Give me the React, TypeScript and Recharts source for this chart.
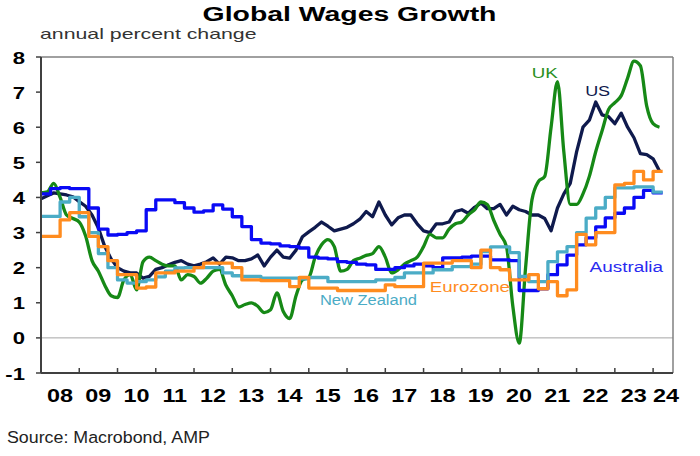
import React from 'react';
import { LineChart, Line, XAxis, YAxis, ReferenceLine, ReferenceDot } from 'recharts';

// x axis: year boundaries and their short labels
const yearTicks = [2008, 2009, 2010, 2011, 2012, 2013, 2014, 2015, 2016, 2017, 2018, 2019, 2020, 2021, 2022, 2023, 2024];
const yearLabels = ['08', '09', '10', '11', '12', '13', '14', '15', '16', '17', '18', '19', '20', '21', '22', '23', '24'];
const valueTicks = [-1, 0, 1, 2, 3, 4, 5, 6, 7, 8];

// quarterly, first value = 2008 Q1
const australia = [
    4.1, 4.25, 4.28, 4.25, 4.25, 3.7, 3.1, 2.93, 2.95, 3.0,
    3.05, 3.65, 3.93, 3.93, 3.85, 3.7, 3.58, 3.62, 3.79, 3.67,
    3.45, 3.17, 2.8, 2.7, 2.68, 2.62, 2.6, 2.56, 2.3, 2.27,
    2.25, 2.17, 2.15, 2.1, 2.08, 1.95, 1.95, 2.0, 2.05, 2.1,
    2.05, 2.0, 2.28, 2.28, 2.3, 2.33, 2.33, 2.22, 2.22, 2.2,
    1.35, 1.35, 1.4, 1.8, 2.08, 2.36, 2.65, 2.85, 3.16, 3.42,
    3.55, 3.7, 4.0, 4.2, 4.13, 4.13,
];
const newZealand = [
    3.46, 3.46, 3.87, 4.0, 3.45, 3.0, 2.4, 2.0, 1.65, 1.56,
    1.6, 1.65, 1.74, 1.9, 1.99, 2.0, 2.0, 2.0, 2.0, 1.85,
    1.77, 1.75, 1.75, 1.7, 1.7, 1.7, 1.7, 1.68, 1.72, 1.72,
    1.6, 1.6, 1.6, 1.6, 1.6, 1.65, 1.65, 1.72, 1.85, 1.85,
    1.85, 1.94, 1.94, 2.03, 2.03, 2.1, 2.46, 2.59, 2.59, 2.43,
    1.75, 1.6, 1.6, 2.17, 2.45, 2.6, 3.0, 3.41, 3.7, 4.0,
    4.27, 4.27, 4.3, 4.3, 4.15, 4.15,
];
const eurozone = [
    2.89, 2.89, 3.36, 3.57, 3.57, 2.89, 2.6, 2.2, 1.8, 1.8,
    1.42, 1.45, 1.85, 1.85, 1.9, 1.9, 2.0, 2.13, 2.13, 2.13,
    2.0, 1.65, 1.65, 1.63, 1.63, 1.63, 1.46, 1.72, 1.42, 1.42,
    1.42, 1.35, 1.35, 1.35, 1.35, 1.35, 1.51, 1.46, 1.46, 1.46,
    2.13, 2.13, 2.13, 2.2, 2.2, 2.0, 2.5, 2.0, 1.94, 1.65,
    1.65, 1.8, 1.4, 1.6, 1.2, 1.37, 2.95, 2.65, 3.0, 3.0,
    4.36, 4.4, 4.74, 4.5, 4.74, 4.74,
];

// every two months, first value = Jan 2008
const us = [
    3.96, 4.05, 4.13, 4.1, 4.07, 4.02, 3.88, 3.75, 3.5, 3.13,
    2.6, 2.25, 2.0, 1.9, 1.85, 1.85, 1.7, 1.75, 1.95, 2.0,
    2.08, 2.15, 2.2, 2.1, 2.05, 2.1, 2.17, 2.28, 2.1, 2.3,
    2.28, 2.2, 2.2, 2.25, 2.36, 2.05, 2.3, 2.5, 2.3, 2.27,
    2.5, 2.88, 3.02, 3.15, 3.3, 3.18, 3.05, 3.1, 3.15, 3.25,
    3.38, 3.6, 3.45, 3.87, 3.5, 3.22, 3.42, 3.5, 3.5, 3.25,
    3.05, 3.0, 3.25, 3.25, 3.3, 3.6, 3.65, 3.55, 3.72, 3.84,
    3.68, 3.68, 3.8, 3.5, 3.75, 3.65, 3.6, 3.5, 3.5, 3.4,
    3.05, 3.7, 4.1, 4.4, 5.3, 6.0, 6.2, 6.72, 6.35, 6.3,
    6.1, 6.4, 6.0, 5.7, 5.25, 5.22, 5.1, 4.75,
];
const uk = [
    4.13, 4.16, 4.4, 4.0, 3.5, 3.4, 3.3, 2.9, 2.2, 1.9,
    1.5, 1.2, 1.15, 1.65, 1.8, 1.37, 2.17, 2.3, 2.2, 2.1,
    2.05, 2.05, 1.65, 1.8, 1.75, 1.56, 1.7, 1.9, 1.95, 1.5,
    1.2, 0.88, 0.95, 1.0, 0.9, 0.72, 0.8, 1.28, 0.75, 0.55,
    1.2, 1.65, 1.72, 2.3, 2.65, 2.8, 2.6, 1.9, 1.95, 2.2,
    2.27, 2.35, 2.4, 2.6, 2.3, 1.85, 1.94, 2.1, 2.2, 2.3,
    2.6, 2.95, 2.85, 2.85, 3.1, 3.25, 3.3, 3.5, 3.65, 3.87,
    3.8, 3.35, 2.95, 2.6, 0.9, -0.15, 2.0, 3.93, 4.45, 4.6,
    6.0, 7.3, 5.3, 3.8, 3.8, 4.1, 4.6, 5.3, 5.9, 6.5,
    6.7, 6.9, 7.4, 7.88, 7.75, 6.6, 6.1, 6.0,
];

const toRows = (values: number[], perYear: number) =>
    values.map((value, i) => ({ date: 2008 + i / perYear, value }));

const series = [
    { name: 'US', rows: toRows(us, 6), color: '#0f1a4d', type: 'linear' },
    { name: 'UK', rows: toRows(uk, 6), color: '#168916', type: 'monotone' },
    { name: 'Australia', rows: toRows(australia, 4), color: '#0a0af5', type: 'stepAfter' },
    { name: 'New Zealand', rows: toRows(newZealand, 4), color: '#4bacc6', type: 'stepAfter' },
    { name: 'Eurozone', rows: toRows(eurozone, 4), color: '#ff8c1f', type: 'stepAfter' },
];

const labels = [
    { text: 'UK', date: 2021.17, value: 7.41, color: '#2a8f22', sx: 1.25 },
    { text: 'US', date: 2022.55, value: 6.89, color: '#0f1a4d', sx: 1.2 },
    { text: 'Australia', date: 2023.3, value: 1.88, color: '#2b2bf0', sx: 1.26 },
    { text: 'Eurozone', date: 2019.21, value: 1.31, color: '#ff8c1f', sx: 1.25 },
    { text: 'New Zealand', date: 2016.56, value: 0.94, color: '#4bacc6', sx: 1.1 },
];

const font = '"Liberation Sans", Arial, sans-serif';

const Stretched = ({ x, y, sx, anchor = 'start', children, ...rest }: any) => (
    <g transform={`translate(${x},${y}) scale(${sx},1)`}>
        <text x={0} y={0} textAnchor={anchor} fontFamily={font} {...rest}>
            {children}
        </text>
    </g>
);

const YTick = ({ x, y, payload }: any) => (
    <Stretched x={x} y={y + 6.5} sx={1.3} anchor="end" fontSize={17} fontWeight="bold" fill="#000">
        {payload.value}
    </Stretched>
);

const XTick = ({ x, y, payload }: any) => {
    const i = yearTicks.indexOf(payload.value);
    const shift = payload.value === 2024 ? 13 : 19;
    return (
        <g>
            <line x1={x} x2={x} y1={y} y2={y - 5} stroke="#404040" strokeWidth={1.5} />
            <Stretched x={x + shift} y={y + 29} sx={1.3} anchor="middle" fontSize={18} fontWeight="bold" fill="#000">
                {yearLabels[i]}
            </Stretched>
        </g>
    );
};

const App = () => {
    return (
        <div style={{ position: 'absolute', left: 0, top: 0, width: 700, height: 456, background: '#fff' }}>
            <LineChart width={700} height={456} margin={{ top: 57, right: 27, bottom: 53, left: 0 }}>
                <XAxis
                    dataKey="date"
                    type="number"
                    domain={[2008, 2024.52]}
                    ticks={yearTicks}
                    interval={0}
                    allowDataOverflow
                    height={30}
                    tickSize={0}
                    tickMargin={0}
                    tickLine={false}
                    axisLine={{ stroke: '#404040', strokeWidth: 2 }}
                    tick={<XTick />}
                />
                <YAxis
                    type="number"
                    domain={[-1, 8]}
                    ticks={valueTicks}
                    interval={0}
                    allowDataOverflow
                    width={41}
                    tickSize={5}
                    tickMargin={11}
                    tickLine={{ stroke: '#404040', strokeWidth: 1.5 }}
                    axisLine={{ stroke: '#404040', strokeWidth: 2 }}
                    tick={<YTick />}
                />
                <ReferenceLine y={0} stroke="#a6a6a6" strokeWidth={1} />
                <ReferenceLine y={8} stroke="#808080" strokeWidth={1.5} />
                <ReferenceLine x={2024.52} stroke="#808080" strokeWidth={1.5} />
                {series.map((s) => (
                    <Line
                        key={s.name}
                        data={s.rows}
                        dataKey="value"
                        name={s.name}
                        type={s.type as any}
                        stroke={s.color}
                        strokeWidth={3.3}
                        strokeLinejoin="round"
                        dot={false}
                        activeDot={false}
                        isAnimationActive={false}
                    />
                ))}
                {labels.map((l) => (
                    <ReferenceDot
                        key={l.text}
                        x={l.date}
                        y={l.value}
                        r={0}
                        ifOverflow="visible"
                        shape={(p: any) => (
                            <Stretched x={p.cx} y={p.cy} sx={l.sx} anchor="middle" fontSize={15} fill={l.color}>
                                {l.text}
                            </Stretched>
                        )}
                    />
                ))}
            </LineChart>
            <svg width={700} height={456} style={{ position: 'absolute', left: 0, top: 0, pointerEvents: 'none' }}>
                <Stretched x={349.5} y={21} sx={1.42} anchor="middle" fontSize={20} fontWeight="bold" fill="#000">
                    Global Wages Growth
                </Stretched>
                <Stretched x={40} y={39} sx={1.42} fontSize={15} fill="#333">
                    annual percent change
                </Stretched>
                <Stretched x={7} y={443} sx={1.08} fontSize={16.5} fill="#222">
                    Source: Macrobond, AMP
                </Stretched>
            </svg>
        </div>
    );
};

export default App;
